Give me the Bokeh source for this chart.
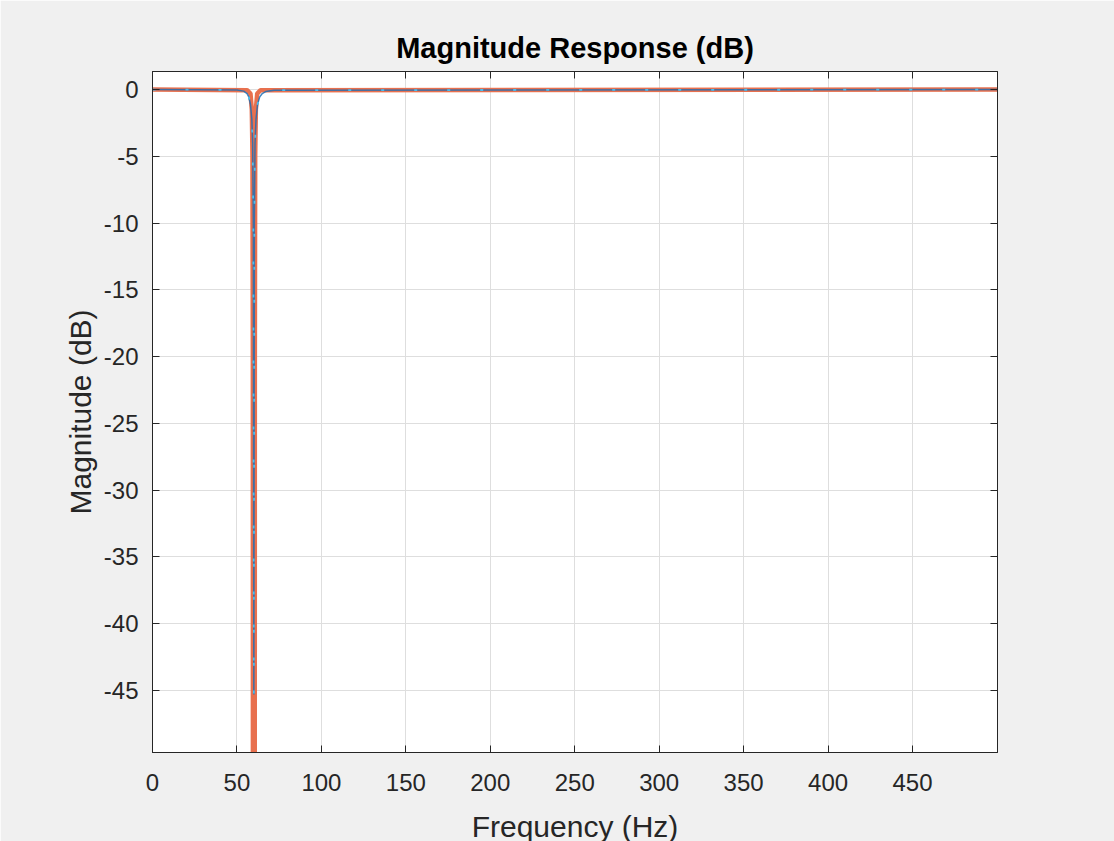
from bokeh.plotting import figure
from bokeh.models import Range1d, LinearAxis, FixedTicker, CustomJSTickFormatter
from bokeh.embed import file_html
from bokeh.resources import INLINE

# ---- data ----
x_ticks = [0, 50, 100, 150, 200, 250, 300, 350, 400, 450]
y_ticks = [0, -5, -10, -15, -20, -25, -30, -35, -40, -45]

# Filter 1 (blue): moderate-Q notch at 60 Hz
f1_freq = [0, 50, 54, 56, 57, 58, 58.8, 59.3, 59.7, 60.0, 60.3, 60.7, 61.3, 62.2, 63.5, 65, 67, 72, 500]
f1_mag = [0, -0.03, -0.12, -0.3, -0.55, -1.1, -2.2, -4.0, -10.0, -45.3, -10.0, -4.0, -2.2, -1.1, -0.55, -0.3, -0.15, -0.05, 0]

# Filter 2 (orange): very sharp, deep notch at 60 Hz
f2_freq = [0, 56, 58, 58.8, 59.2, 59.4, 59.5, 60.5, 60.6, 60.8, 61.2, 62, 64, 500]
f2_mag = [0, -0.05, -0.3, -1.5, -5.0, -20.0, -80.0, -80.0, -20.0, -5.0, -1.5, -0.3, -0.05, 0]

FONT = "Liberation Sans"
TXT = "#262626"

p = figure(
    frame_width=845, frame_height=681,
    min_border_left=152, min_border_top=71, min_border_right=117, min_border_bottom=89,
    output_backend="svg", toolbar_location=None,
    x_range=Range1d(0, 500.3), y_range=Range1d(-49.64, 1.35),
    background_fill_color="white", border_fill_color="#F0F0F0",
    x_axis_label="Frequency (Hz)", y_axis_label="Magnitude (dB)",
)

p.title.text = "Magnitude Response (dB)"
p.title.align = "center"
p.title.text_font = FONT
p.title.text_font_size = "29px"
p.title.text_font_style = "bold"
p.title.text_color = "#000000"
p.title.standoff = 15

p.outline_line_color = TXT
p.outline_line_width = 1

# lines
p.line(f2_freq, f2_mag, line_color="#E8704E", line_width=4.5)
p.line(f1_freq, f1_mag, line_color="#1F6FB5", line_width=1.5, line_alpha=0.85)
p.line(f1_freq, f1_mag, line_color="#4DBEEE", line_width=1.8, line_dash="3 30")

for ax in (p.xaxis[0], p.yaxis[0]):
    ax.axis_line_color = TXT
    ax.major_tick_line_color = TXT
    ax.major_tick_in = 7
    ax.major_tick_out = 0
    ax.minor_tick_line_color = None
    ax.major_label_text_font = FONT
    ax.major_label_text_font_size = "24px"
    ax.major_label_text_color = TXT
    ax.axis_label_text_font = FONT
    ax.axis_label_text_font_size = "30px"
    ax.axis_label_text_font_style = "normal"
    ax.axis_label_text_color = TXT

p.xaxis[0].ticker = FixedTicker(ticks=x_ticks)
p.yaxis[0].ticker = FixedTicker(ticks=y_ticks)
p.yaxis[0].major_label_overrides = {t: str(t) for t in y_ticks}
p.xaxis[0].major_label_standoff = 21
p.xaxis[0].axis_label_standoff = 16
p.yaxis[0].major_label_standoff = 14
p.yaxis[0].axis_label_standoff = 4

blank = CustomJSTickFormatter(code="return ''")
for loc, ticks in (("above", x_ticks), ("right", y_ticks)):
    ax = LinearAxis(ticker=FixedTicker(ticks=ticks), formatter=blank)
    ax.axis_line_color = TXT
    ax.major_tick_line_color = TXT
    ax.major_tick_in = 7
    ax.major_tick_out = 0
    ax.minor_tick_line_color = None
    ax.major_label_text_font_size = "1px"
    ax.major_label_standoff = 0
    p.add_layout(ax, loc)

p.xgrid.ticker = FixedTicker(ticks=x_ticks)
p.ygrid.ticker = FixedTicker(ticks=y_ticks)
p.grid.grid_line_color = "#DEDEDE"
p.grid.grid_line_width = 1

open("out.html", "w").write(file_html(p, INLINE))
